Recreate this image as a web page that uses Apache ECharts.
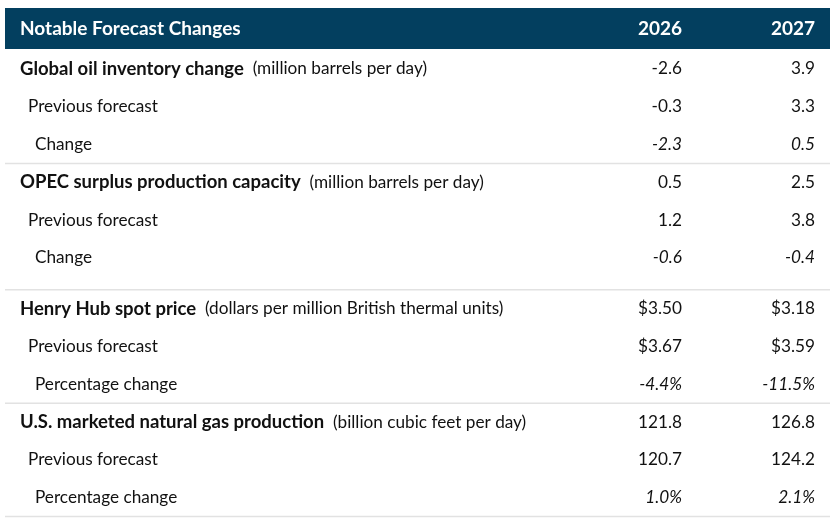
<!DOCTYPE html>
<html>
<head>
<meta charset="utf-8">
<script src="https://cdn.jsdelivr.net/npm/echarts@6/dist/echarts.min.js"></script>
<style>
  html, body { margin: 0; padding: 0; background: #fff; }
  #forecast_table { width: 835px; height: 526px; }
</style>
</head>
<body>
<div id="forecast_table"></div>
<script>
// Table data
var headerTitle = "Notable Forecast Changes";
var yearLabels = ["2026", "2027"];

var rowLabels = [
  "Global oil inventory change", "Previous forecast", "Change",
  "OPEC surplus production capacity", "Previous forecast", "Change",
  "Henry Hub spot price", "Previous forecast", "Percentage change",
  "U.S. marketed natural gas production", "Previous forecast", "Percentage change"
];
var rowUnits = [
  "(million barrels per day)", "", "",
  "(million barrels per day)", "", "",
  "(dollars per million British thermal units)", "", "",
  "(billion cubic feet per day)", "", ""
];
// 0 = section head, 1 = previous forecast, 2 = change
var rowLevels = [0, 1, 2, 0, 1, 2, 0, 1, 2, 0, 1, 2];
// number format per row: n = 1 decimal, d = dollars, p = percent
var rowFormats = ["n", "n", "n", "n", "n", "n", "d", "d", "p", "n", "n", "p"];

var values2026 = [-2.6, -0.3, -2.3, 0.5, 1.2, -0.6, 3.50, 3.67, -4.4, 121.8, 120.7, 1.0];
var values2027 = [3.9, 3.3, 0.5, 2.5, 3.8, -0.4, 3.18, 3.59, -11.5, 126.8, 124.2, 2.1];

// Layout
var FONT = "Lato, 'Noto Sans', sans-serif";
var BOLD = "bold 18.5px " + FONT;
var HEAD_BOLD = "bold 19px " + FONT;
var NORMAL = "17.2px " + FONT;
var HEADER_TOP = 8, HEADER_BOTTOM = 49;
var ROW_TOP = 50, ROW_H = 37.8, SECTION_GAP = 13;
var TABLE_LEFT = 5, TABLE_RIGHT = 830;
var COL_RIGHT = [682, 815];
var INDENT = [20, 28, 35];

function rowTop(i) {
  return ROW_TOP + i * ROW_H + (i >= 6 ? SECTION_GAP : 0);
}

function formatValue(v, f) {
  if (f === "d") return "$" + v.toFixed(2);
  if (f === "p") return v.toFixed(1) + "%";
  return v.toFixed(1);
}

var chart = echarts.init(document.getElementById("forecast_table"));

var rows = rowLabels.map(function (label, i) {
  return [i, rowTop(i)];
});

chart.setOption({
  animation: false,
  grid: { left: 0, right: 0, top: 0, bottom: 0 },
  xAxis: { type: "value", min: 0, max: 835, show: false },
  yAxis: { type: "value", min: 0, max: 526, inverse: true, show: false },
  series: [
    {
      // header band
      type: "custom",
      silent: true,
      data: [[0]],
      renderItem: function (params, api) {
        var tl = api.coord([TABLE_LEFT, HEADER_TOP]);
        var br = api.coord([TABLE_RIGHT, HEADER_BOTTOM]);
        var cy = (tl[1] + br[1]) / 2;
        var children = [
          {
            type: "rect",
            shape: { x: tl[0], y: tl[1], width: br[0] - tl[0], height: br[1] - tl[1] },
            style: { fill: "#033f5f" }
          },
          {
            type: "text",
            x: api.coord([INDENT[0], 0])[0], y: cy,
            style: {
              text: headerTitle, fill: "#fff", font: HEAD_BOLD,
              verticalAlign: "middle", align: "left"
            }
          }
        ];
        yearLabels.forEach(function (yr, k) {
          children.push({
            type: "text",
            x: api.coord([COL_RIGHT[k], 0])[0], y: cy,
            style: {
              text: yr, fill: "#fff", font: HEAD_BOLD,
              verticalAlign: "middle", align: "right"
            }
          });
        });
        return { type: "group", children: children };
      }
    },
    {
      // body rows
      type: "custom",
      silent: true,
      data: rows,
      renderItem: function (params, api) {
        var i = api.value(0);
        var top = api.value(1);
        var cy = api.coord([0, top + ROW_H / 2])[1];
        var lvl = rowLevels[i];
        var italic = lvl === 2 ? "italic " : "";
        var children = [];

        var labelText = lvl === 0
          ? "{b|" + rowLabels[i] + "}{n|  " + rowUnits[i] + "}"
          : "{n|" + rowLabels[i] + "}";
        children.push({
          type: "text",
          x: api.coord([INDENT[lvl], 0])[0], y: cy,
          style: {
            text: labelText,
            verticalAlign: "middle", align: "left",
            rich: {
              b: { font: BOLD, fill: "#111" },
              n: { font: NORMAL, fill: "#111" }
            }
          }
        });

        [values2026[i], values2027[i]].forEach(function (v, k) {
          children.push({
            type: "text",
            x: api.coord([COL_RIGHT[k], 0])[0], y: cy,
            style: {
              text: formatValue(v, rowFormats[i]),
              font: italic + NORMAL, fill: "#111",
              verticalAlign: "middle", align: "right"
            }
          });
        });

        // separator below each section
        if (lvl === 2) {
          var bottom = i === 5 ? top + ROW_H + SECTION_GAP : top + ROW_H;
          var p1 = api.coord([TABLE_LEFT, bottom]);
          var p2 = api.coord([TABLE_RIGHT, bottom]);
          children.push({
            type: "line",
            shape: { x1: p1[0], y1: p1[1], x2: p2[0], y2: p2[1] },
            style: { stroke: "#e2e2e2", lineWidth: 1.5 }
          });
        }
        return { type: "group", children: children };
      }
    }
  ]
});

window.addEventListener("resize", function () {
  chart.resize();
});
</script>
</body>
</html>
